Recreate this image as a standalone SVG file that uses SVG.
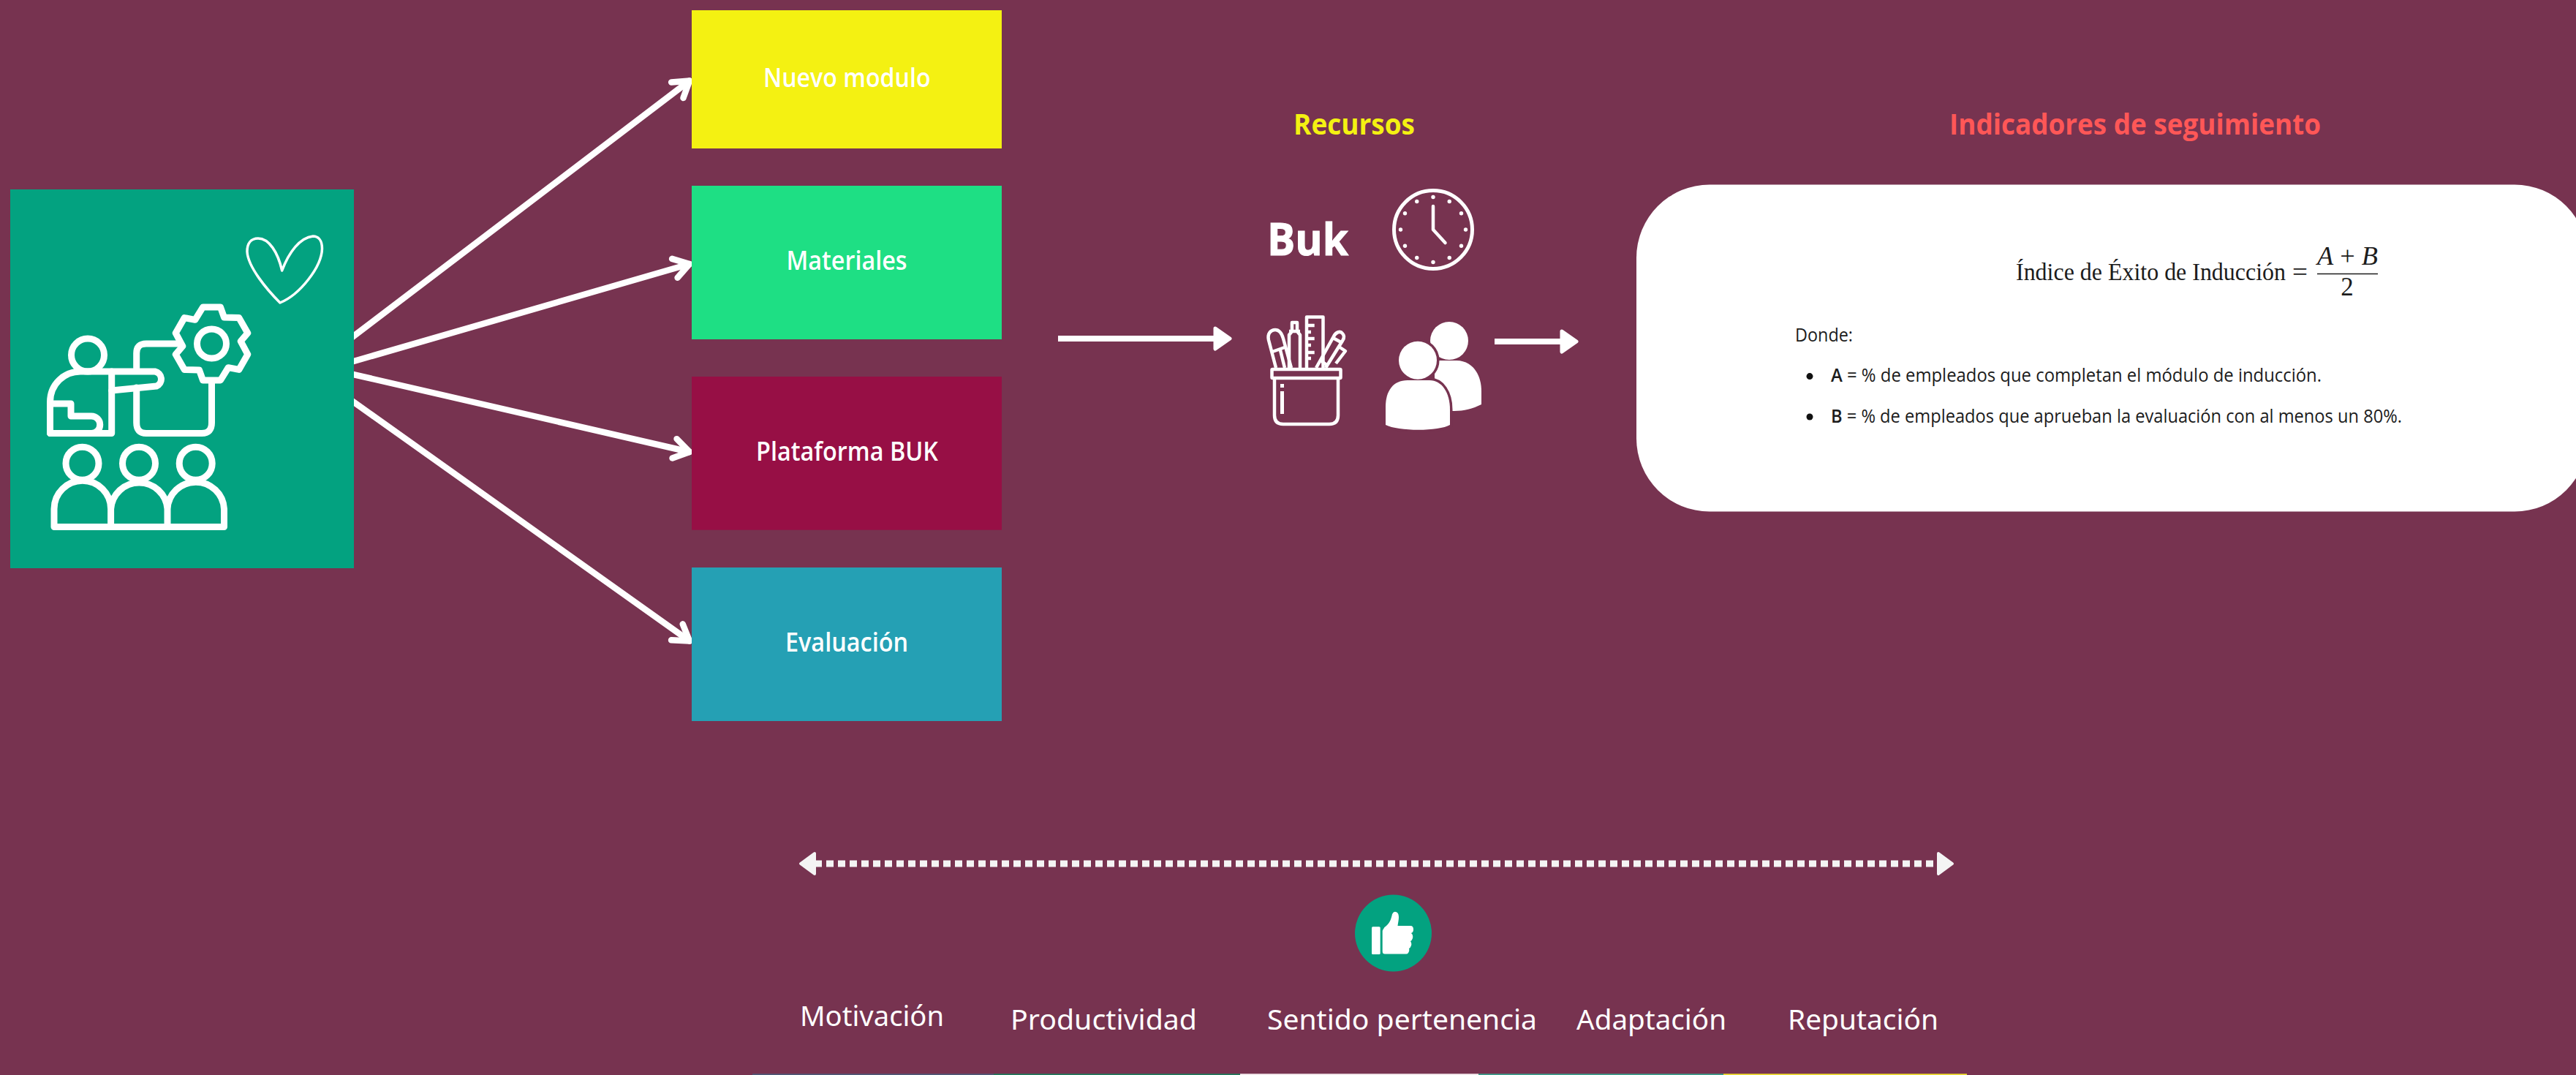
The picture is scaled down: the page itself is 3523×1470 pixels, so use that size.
<svg xmlns="http://www.w3.org/2000/svg" width="3523" height="1470" viewBox="0 0 3523 1470">
<defs>
<style>
.box{font-family:"Open Sans","Noto Sans",sans-serif;font-weight:600;font-size:36px;fill:#fff}
.head{font-family:"Open Sans","Noto Sans",sans-serif;font-weight:700;font-size:39px}
.lab{font-family:"Noto Sans","Open Sans",sans-serif;font-weight:400;font-size:39px;fill:#fff}
.math{font-family:"Liberation Serif",serif;font-size:33px;fill:#1c1c1c}
.frac{font-family:"Liberation Serif",serif;font-size:35px;fill:#1c1c1c}
.body{font-family:"Open Sans","Noto Sans",sans-serif;font-size:25px;fill:#1c1c1c}
.ico{fill:none;stroke:#fff;stroke-width:9;stroke-linejoin:round;stroke-linecap:round}
.ico2{fill:none;stroke:#fff;stroke-width:4.5;stroke-linejoin:round;stroke-linecap:butt}
.conn{fill:none;stroke:#fff;stroke-width:8.5;stroke-linecap:round}
.bar{fill:none;stroke:#fff;stroke-width:8}
</style>
<marker id="open" markerUnits="userSpaceOnUse" markerWidth="60" markerHeight="60" refX="30" refY="30" orient="auto" overflow="visible">
<path d="M9 16.5L30 30L9 43.5" fill="none" stroke="#fff" stroke-width="8.5" stroke-linecap="round" stroke-linejoin="round"/>
</marker>
<marker id="solid" markerUnits="userSpaceOnUse" markerWidth="40" markerHeight="50" refX="3" refY="25" orient="auto-start-reverse" overflow="visible">
<path d="M3 11L23 25L3 39Z" fill="#fff" stroke="#fff" stroke-width="5" stroke-linejoin="round"/>
</marker>
<marker id="soft" markerUnits="userSpaceOnUse" markerWidth="40" markerHeight="50" refX="2" refY="25" orient="auto-start-reverse" overflow="visible">
<path d="M2 11L21 25L2 39Z" fill="#f4f4f4" stroke="#f4f4f4" stroke-width="4" stroke-linejoin="round"/>
</marker>
</defs>
<rect width="3523" height="1470" fill="#773350"/>

<g id="connectors">
<line class="conn" x1="470" y1="470" x2="943" y2="110.500" marker-end="url(#open)"/>
<line class="conn" x1="470" y1="498" x2="943" y2="361" marker-end="url(#open)"/>
<line class="conn" x1="470" y1="509" x2="943" y2="618" marker-end="url(#open)"/>
<line class="conn" x1="470" y1="540" x2="943" y2="876.500" marker-end="url(#open)"/>
<line class="bar" x1="1447" y1="463" x2="1662" y2="463" marker-end="url(#solid)"/>
<line class="bar" x1="2044" y1="467" x2="2136" y2="467" marker-end="url(#solid)"/>
<line x1="1114" y1="1181" x2="2651" y2="1181" fill="none" stroke="#f4f4f4" stroke-width="9" stroke-dasharray="10 6" marker-start="url(#soft)" marker-end="url(#soft)"/>
</g>

<g id="trainer">
<rect x="14" y="259" width="470" height="518" fill="#03a280"/>
<path d="M385.700 370C380 345 368 326 353 326C343 326 338 333 338 344C339 365 365 396 383 414C410 403 440 365 440.500 340C440.500 328 435 323 428 323C410 325 395 345 385.700 370Z" fill="none" stroke="#fff" stroke-width="3.500" stroke-linejoin="round"/>
<g class="ico">
<circle cx="120" cy="485.500" r="22.500"/>
<path d="M68.500 592.500V550C68.500 525 88 508 110 508H212A10.500 10.500 0 0 1 214 528L152.700 534"/>
<path d="M152.700 508V592.500H68.500"/>
<path d="M68.500 552H97V569H125A11.500 11.500 0 0 1 125 592.500"/>
<path d="M246 470H200Q186.700 470 186.700 483V503M186.700 530V578Q186.700 592.500 200 592.500H276Q289.500 592.500 289.500 578V524"/>
<g transform="translate(289.500 470)">
<path d="M-12 -50L12 -50L17 -36L37.300 -35.400L49.300 -14.600L39.700 -3.300L49.300 14.600L37.300 35.400L22.700 32.700L12 50L-12 50L-17 36L-37.300 35.400L-49.300 14.600L-39.700 3.300L-49.300 -14.600L-37.300 -35.400L-22.700 -32.700Z"/>
<circle r="20"/>
</g>
<circle cx="112.500" cy="633.700" r="22.500"/>
<circle cx="190" cy="633.700" r="22.500"/>
<circle cx="267.700" cy="633.700" r="22.500"/>
<path d="M74 720.500V696A38.800 38.800 0 0 1 151.600 696V720.500M151.600 696A38.800 38.800 0 0 1 229 696V720.500M229 696A38.800 38.800 0 0 1 306.500 696V720.500H74"/>
</g>
</g>

<g id="nuevo-modulo"><rect x="946" y="14" width="424" height="189" fill="#f4f112"/><text class="box" x="1044" y="119.300" textLength="228.500" lengthAdjust="spacingAndGlyphs">Nuevo modulo</text></g>
<g id="materiales"><rect x="946" y="254" width="424" height="210" fill="#1edf84"/><text class="box" x="1075.500" y="369" textLength="165" lengthAdjust="spacingAndGlyphs">Materiales</text></g>
<g id="plataforma-buk"><rect x="946" y="515" width="424" height="209.700" fill="#970f45"/><text class="box" x="1034" y="630" textLength="249" lengthAdjust="spacingAndGlyphs">Plataforma BUK</text></g>
<g id="evaluacion"><rect x="946" y="776" width="424" height="210" fill="#25a0b4"/><text class="box" x="1074" y="891" textLength="168" lengthAdjust="spacingAndGlyphs">Evaluación</text></g>

<g id="recursos">
<text class="head" x="1769" y="184" fill="#f4f112" textLength="166" lengthAdjust="spacingAndGlyphs">Recursos</text>
<text x="1733" y="349" font-family="'Open Sans','Noto Sans',sans-serif" font-weight="700" font-size="60" fill="#fff" stroke="#fff" stroke-width="1" textLength="111" lengthAdjust="spacingAndGlyphs">Buk</text>
<g id="clock" transform="translate(1960 314)">
<circle r="53.500" fill="none" stroke="#fff" stroke-width="5"/>
<g fill="#fff">
<circle cy="-44.500" r="2.700"/><circle cx="22.250" cy="-38.500" r="2.700"/><circle cx="38.500" cy="-22.250" r="2.700"/><circle cx="44.500" r="2.700"/><circle cx="38.500" cy="22.250" r="2.700"/><circle cx="22.250" cy="38.500" r="2.700"/><circle cy="44.500" r="2.700"/><circle cx="-22.250" cy="38.500" r="2.700"/><circle cx="-38.500" cy="22.250" r="2.700"/><circle cx="-44.500" r="2.700"/><circle cx="-38.500" cy="-22.250" r="2.700"/><circle cx="-22.250" cy="-38.500" r="2.700"/>
</g>
<path d="M0 -32V0L16.500 18" fill="none" stroke="#fff" stroke-width="4.500" stroke-linecap="round" stroke-linejoin="round"/>
</g>
<g id="pencil-cup">
<g class="ico2">
<rect x="1739.500" y="505" width="94" height="12" rx="1"/>
<path d="M1743 517V568Q1743 580 1755 580H1818Q1830 580 1830 568V517"/>
<path d="M1787 503V433.500H1809.500V503"/>
<path d="M1787 445H1797.700M1787 454H1793M1787 463H1797.700M1787 472H1793M1787 482H1797.700M1787 490H1793"/>
<path d="M1763 503V458L1767 453V441H1774V453L1778 458V503M1763 453H1778"/>
<path d="M1745 503L1735 465C1733 456 1738 451 1744 451C1750 451 1753 456 1755 463L1766 503"/>
<path d="M1740 481L1757 475M1751 479L1757 503"/>
<path d="M1800 503L1824 460C1827 454 1833 452 1836 456C1839 459 1838 463 1836 466L1813 503"/>
<path d="M1831 474L1840 480L1827 497M1806 493L1816 500M1823 462L1834 468"/>
</g>
<rect x="1751" y="525" width="5" height="5" fill="#fff"/>
<rect x="1751" y="535" width="5" height="31" fill="#fff"/>
</g>
<g id="people" fill="#fff">
<path d="M1962 562V493H1992C2012 493 2026 510 2026 535V553C2014 559 2002 562 1989 562Z"/>
<circle cx="1982" cy="466" r="26"/>
<path d="M1895 581V556C1895 535 1905 520 1925 520H1955C1972 520 1983 537 1983 560V581C1968 590 1912 590 1895 581Z" stroke="#773350" stroke-width="7"/>
<circle cx="1939" cy="492.700" r="26" stroke="#773350" stroke-width="7"/>
<path d="M1895 581V556C1895 535 1905 520 1925 520H1955C1972 520 1983 537 1983 560V581C1968 590 1912 590 1895 581Z"/>
<circle cx="1939" cy="492.700" r="26"/>
</g>
</g>

<g id="indicadores">
<text class="head" x="2666" y="183.600" fill="#ff5757" textLength="508" lengthAdjust="spacingAndGlyphs">Indicadores de seguimiento</text>
<rect x="2238" y="252.500" width="1301" height="447" rx="100" ry="100" fill="#fff"/>
<text class="math" x="2757" y="382.600" textLength="369" lengthAdjust="spacingAndGlyphs">Índice de Éxito de Inducción</text>
<text class="math" x="3135" y="382.600" textLength="21" lengthAdjust="spacingAndGlyphs">=</text>
<text class="frac" x="3169" y="362" textLength="83" lengthAdjust="spacingAndGlyphs"><tspan font-style="italic">A</tspan> + <tspan font-style="italic">B</tspan></text>
<line x1="3169" y1="374.500" x2="3252" y2="374.500" stroke="#1c1c1c" stroke-width="1.500"/>
<text class="frac" x="3210" y="403.600" text-anchor="middle">2</text>
<text class="body" x="2455" y="467" textLength="79" lengthAdjust="spacingAndGlyphs">Donde:</text>
<circle cx="2475" cy="514.600" r="4.500" fill="#111"/>
<text class="body" x="2504" y="522" textLength="671" lengthAdjust="spacingAndGlyphs"><tspan font-weight="600">A</tspan> = % de empleados que completan el módulo de inducción.</text>
<circle cx="2475" cy="570" r="4.500" fill="#111"/>
<text class="body" x="2504" y="578" textLength="781" lengthAdjust="spacingAndGlyphs"><tspan font-weight="600">B</tspan> = % de empleados que aprueban la evaluación con al menos un 80%.</text>
</g>

<g id="beneficios">
<circle cx="1905.500" cy="1276" r="52.500" fill="#03a280"/>
<rect x="1876" y="1267.300" width="11.700" height="37.700" rx="1.500" fill="#fff"/>
<path d="M1890.700 1273Q1892 1268 1896 1266C1901 1262 1903 1255 1904 1250Q1906 1246 1909 1247Q1913 1248 1913 1254C1913 1258 1912 1262 1911.500 1266H1929Q1933 1266 1933 1271Q1933 1275 1930 1276Q1933 1278 1932 1283Q1931 1286 1929 1287Q1931 1290 1930 1293Q1929 1296 1927 1297Q1928 1300 1926 1303Q1925 1304.500 1923 1304.500H1894Q1890.700 1304.500 1890.700 1301Z" fill="#fff"/>
<text class="lab" x="1094" y="1403" textLength="197" lengthAdjust="spacingAndGlyphs">Motivación</text>
<text class="lab" x="1382" y="1408" textLength="255" lengthAdjust="spacingAndGlyphs">Productividad</text>
<text class="lab" x="1733" y="1408" textLength="369" lengthAdjust="spacingAndGlyphs">Sentido pertenencia</text>
<text class="lab" x="2156" y="1408" textLength="205" lengthAdjust="spacingAndGlyphs">Adaptación</text>
<text class="lab" x="2445" y="1408" textLength="206" lengthAdjust="spacingAndGlyphs">Reputación</text>
</g>

<g id="bottom-strip">
<rect x="1029" y="1468.300" width="330" height="1.700" fill="#4f5a78"/>
<rect x="1359" y="1468.300" width="337" height="1.700" fill="#1f7a5c"/>
<rect x="1696" y="1468.300" width="326" height="1.700" fill="#f8f0f2"/>
<rect x="2022" y="1468.300" width="335" height="1.700" fill="#3ba08c"/>
<rect x="2357" y="1468.300" width="333" height="1.700" fill="#f0e030"/>
</g>
</svg>
